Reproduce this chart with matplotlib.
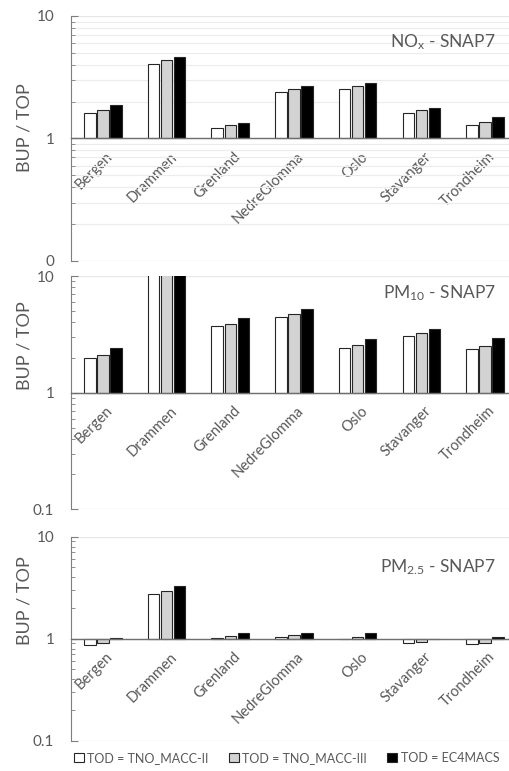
import matplotlib
matplotlib.use("Agg")
import matplotlib.pyplot as plt
import matplotlib.ticker as mticker
import matplotlib.transforms as mtransforms
from matplotlib.patches import Patch
import numpy as np

plt.rcParams['font.family'] = ['Lato', 'DejaVu Sans']
plt.rcParams['mathtext.fontset'] = 'custom'
plt.rcParams['mathtext.rm'] = 'Lato'
plt.rcParams['mathtext.it'] = 'Lato'

cities = ["Bergen", "Drammen", "Grenland", "NedreGlomma", "Oslo", "Stavanger", "Trondheim"]
series = ["TOD = TNO_MACC-II", "TOD = TNO_MACC-III", "TOD = EC4MACS"]

nox = [
    [1.62, 4.07, 1.22, 2.41, 2.52, 1.62, 1.28],
    [1.71, 4.36, 1.30, 2.55, 2.66, 1.72, 1.36],
    [1.88, 4.62, 1.35, 2.66, 2.82, 1.76, 1.50],
]
pm10 = [
    [1.99, 11.0, 3.71, 4.46, 2.43, 3.08, 2.37],
    [2.09, 12.0, 3.88, 4.77, 2.57, 3.25, 2.52],
    [2.42, 13.0, 4.35, 5.23, 2.89, 3.50, 2.93],
]
pm25 = [
    [0.87, 2.76, 1.01, 1.04, 1.00, 0.91, 0.88],
    [0.90, 2.93, 1.07, 1.09, 1.05, 0.93, 0.91],
    [1.01, 3.31, 1.15, 1.15, 1.15, 0.99, 1.04],
]

titles = [r"NO$_{\mathrm{x}}$ - SNAP7", r"PM$_{\mathrm{10}}$ - SNAP7", r"PM$_{\mathrm{2.5}}$ - SNAP7"]
title_y = [0.894, 0.928, 0.853]
ylabel_y = [0.543, 0.70, 0.686]
bottom_labels = ["0", "0.1", "0.1"]

colors = ["white", "#d3d3d3", "black"]
gray_txt = "#595959"
spine_c = "#7f7f7f"

fig = plt.figure(figsize=(5.09, 7.71), dpi=100)

# axes rectangles [left, bottom, width, height] in figure fraction
rects = [
    [0.1395, 0.6615, 0.876, 0.3178],
    [0.1395, 0.3394, 0.876, 0.3026],
    [0.1395, 0.0393, 0.876, 0.2646],
]

x = np.arange(len(cities))
width = 0.18
step = 0.205

for k, (data, title, blab, rect) in enumerate(zip([nox, pm10, pm25], titles, bottom_labels, rects)):
    ax = fig.add_axes(rect)
    ax.set_yscale("log")
    ax.set_ylim(0.1, 10)
    ax.set_xlim(-0.5, len(cities) - 0.5)

    for j, vals in enumerate(data):
        v = np.array(vals)
        ax.bar(x + (j - 1) * step, v - 1, bottom=1, width=width,
               color=colors[j], edgecolor="#262626", linewidth=0.8, zorder=3)

    # gridlines
    ax.yaxis.grid(True, which="major", color="#e6e6e6", linewidth=0.9, zorder=0)
    if k == 0:
        ax.yaxis.grid(True, which="minor", color="#ececec", linewidth=0.8, zorder=0)

    ax.spines["top"].set_visible(False)
    ax.spines["right"].set_visible(False)
    ax.spines["left"].set_color(spine_c)
    ax.spines["bottom"].set_position(("data", 1))
    ax.spines["bottom"].set_color("#6f6f6f")
    ax.spines["bottom"].set_linewidth(1.0)
    ax.spines["bottom"].set_zorder(4)

    ax.yaxis.set_major_locator(mticker.FixedLocator([0.1, 1, 10]))
    ax.yaxis.set_major_formatter(mticker.FixedFormatter([blab, "1", "10"]))
    ax.yaxis.set_minor_locator(mticker.LogLocator(base=10, subs=np.arange(2, 10)))
    ax.yaxis.set_minor_formatter(mticker.NullFormatter())
    ax.tick_params(axis="y", which="major", direction="in", length=5, color=spine_c,
                   labelsize=11, labelcolor=gray_txt, pad=12)
    ax.tick_params(axis="y", which="minor", direction="in", length=3, color=spine_c)

    ax.set_xticks(x)
    ax.set_xticklabels(cities, rotation=45, ha="right", va="top",
                       rotation_mode="anchor")
    ax.tick_params(axis="x", length=0, labelsize=10.5, labelcolor=gray_txt, pad=8)
    shift = mtransforms.ScaledTranslation(3 / 100, 0, fig.dpi_scale_trans)
    for lab in ax.get_xticklabels():
        lab.set_transform(lab.get_transform() + shift)

    ax.set_ylabel("BUP / TOP", color=gray_txt, fontsize=13)
    ax.yaxis.set_label_coords(-0.087, ylabel_y[k])

    ax.text(0.952, title_y[k], title, transform=ax.transAxes,
            ha="right", va="center", fontsize=12.5, color=gray_txt)

handles = [Patch(facecolor=c, edgecolor="#262626", linewidth=0.8) for c in colors]
fig.legend(handles, series, loc="center", bbox_to_anchor=(0.563, 0.017), ncol=3,
           frameon=False, fontsize=9, labelcolor=gray_txt, handlelength=0.8,
           handleheight=0.8, handletextpad=0.3, columnspacing=1.6)

fig.savefig("out.png", dpi=100)
